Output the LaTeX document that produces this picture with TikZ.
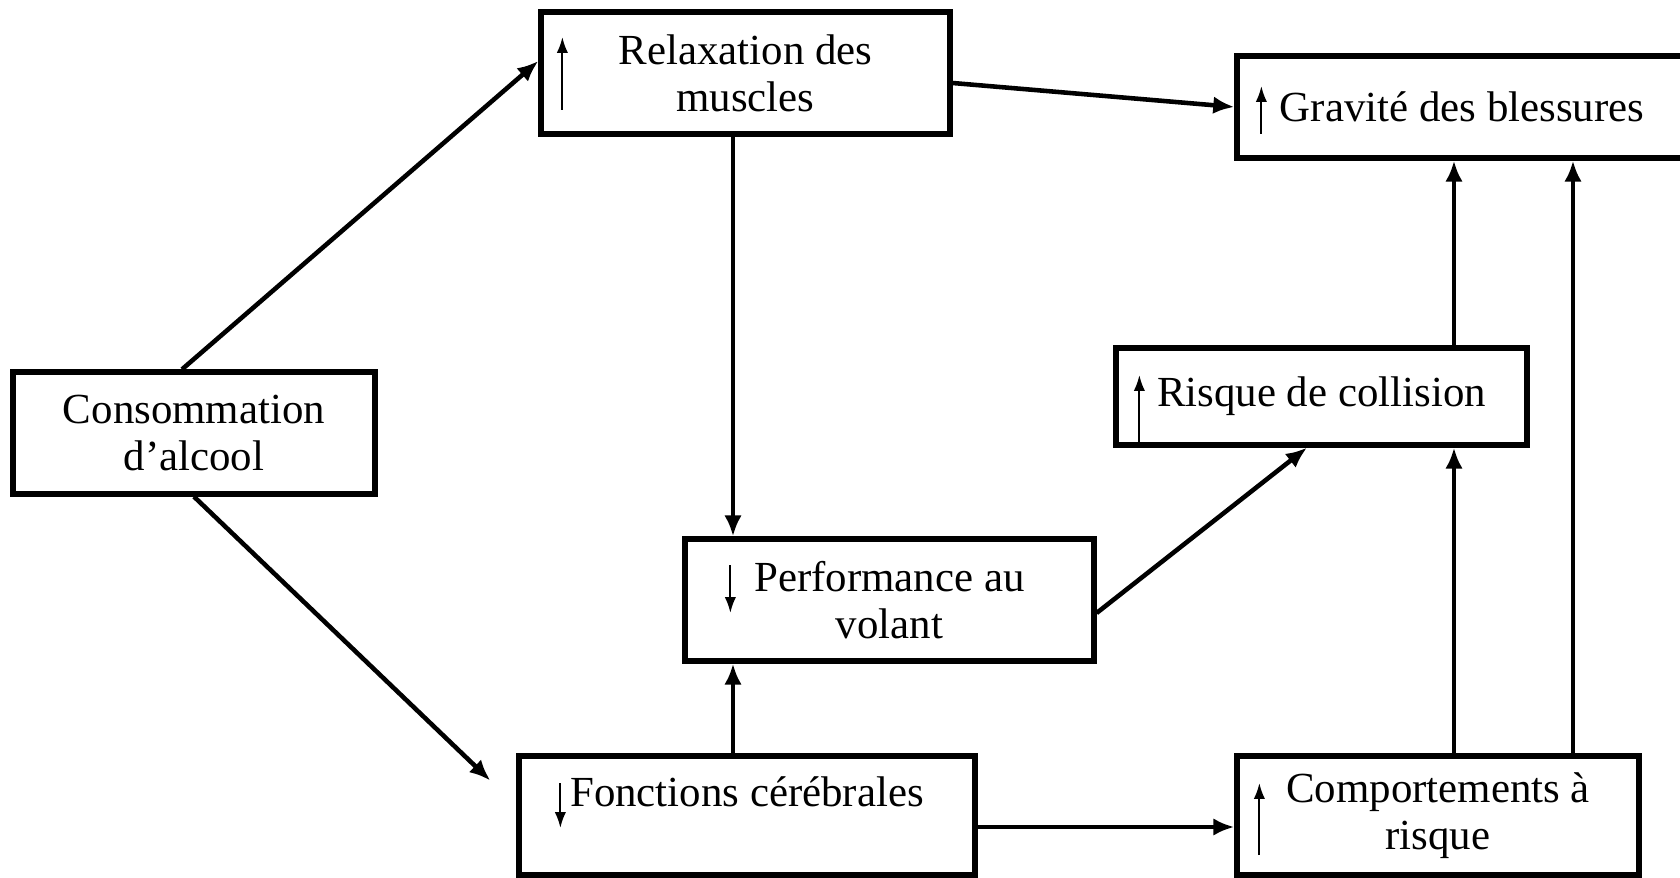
\documentclass[tikz,border=0pt]{standalone}
\usepackage{fontspec}
\setmainfont{Liberation Serif}
\usetikzlibrary{arrows.meta}

\begin{document}
\begin{tikzpicture}[
	bloc/.style={draw, line width=1.5pt, align=center, inner sep=0pt, font=\fontsize{12.2}{13.4}\selectfont},
	conn/.style={line width=1.3pt, -{Latex[length=6pt,width=5pt]}},
	sarrow/.style={line width=0.6pt, -{Latex[length=4.5pt,width=3.2pt]}}
]
	% \draw[help lines] (0,0) grid (17,9);
	\useasboundingbox (0,0) rectangle (16.8,8.77);
	% boxes
	\node[bloc, minimum width=3.62cm, minimum height=1.22cm] (cons) at (1.94,4.44) {Consommation\\d’alcool};
	\node[bloc, minimum width=4.09cm, minimum height=1.22cm] (relax) at (7.455,8.04) {Relaxation des\\muscles};
	\node[bloc, minimum width=4.5cm, minimum height=1.02cm] (grav) at (14.62,7.70) {Gravité des blessures};
	\node[bloc, minimum width=4.11cm, minimum height=0.97cm] (risk) at (13.215,4.805) {Risque de collision};
	\node[bloc, minimum width=4.09cm, minimum height=1.22cm] (perf) at (8.895,2.77) {Performance au\\volant};
	\node[bloc, minimum width=4.56cm, minimum height=1.19cm] (fonc) at (7.47,0.615) {Fonctions cérébrales\\~};
	\node[bloc, minimum width=4.02cm, minimum height=1.19cm] (comp) at (14.38,0.615) {Comportements à\\risque};

	% vertical lanes
	\coordinate (colA) at (7.33,0);
	\coordinate (colB) at (14.54,0);
	\coordinate (colC) at (15.73,0);

	% links
	\draw[conn] ([xshift=-0.12cm]cons.north) -- ([yshift=0.12cm]relax.west);
	\draw[conn, shorten >=0.36cm] (cons.south) -- ([yshift=0.1cm]fonc.west);
	\draw[conn] (relax.south -| colA) -- (perf.north -| colA);
	\draw[conn] (fonc.north -| colA) -- (perf.south -| colA);
	\draw[conn] ([yshift=-0.1cm]relax.east) -- (grav.west);
	\draw[conn] ([yshift=-0.13cm]perf.east) -- ([xshift=-0.145cm]risk.south);
	\draw[conn] ([yshift=-0.115cm]fonc.east) -- ([yshift=-0.115cm]fonc.east -| comp.west);
	\draw[conn] (comp.north -| colB) -- (risk.south -| colB);
	\draw[conn] (risk.north -| colB) -- (grav.south -| colB);
	\draw[conn] (comp.north -| colC) -- (grav.south -| colC);

	% up / down marks
	\draw[sarrow] ([xshift=0.24cm,yshift=-0.37cm]relax.west) -- ++(0,0.73);
	\draw[sarrow] ([xshift=0.27cm,yshift=-0.27cm]grav.west) -- ++(0,0.48);
	\draw[sarrow] ([xshift=0.26cm,yshift=-0.465cm]risk.west) -- ++(0,0.68);
	\draw[sarrow] ([xshift=0.48cm,yshift=0.35cm]perf.west) -- ++(0,-0.48);
	\draw[sarrow] ([xshift=0.44cm,yshift=0.325cm]fonc.west) -- ++(0,-0.45);
	\draw[sarrow] ([xshift=0.25cm,yshift=-0.395cm]comp.west) -- ++(0,0.72);
\end{tikzpicture}
\end{document}
